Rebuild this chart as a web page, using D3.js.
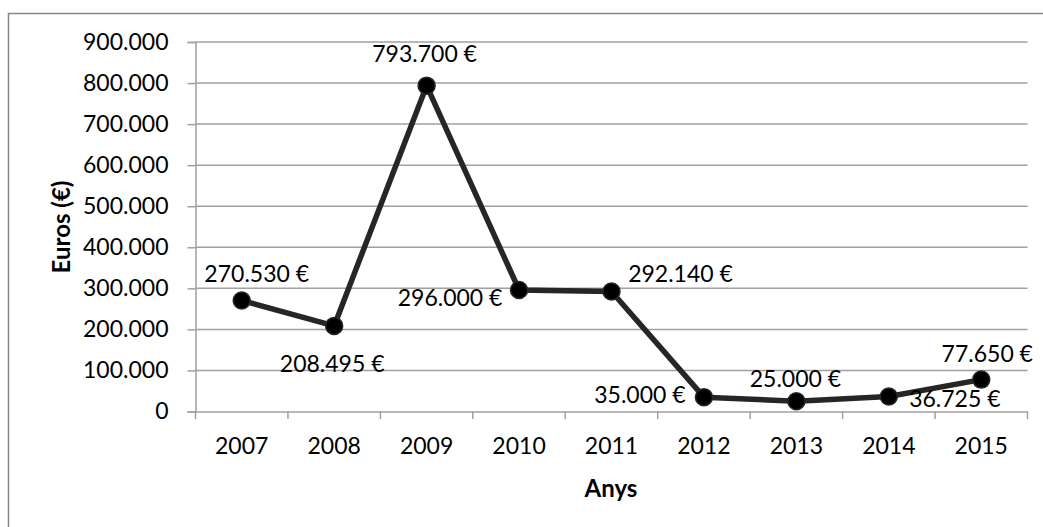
<!DOCTYPE html>
<html><head><meta charset="utf-8">
<script src="https://cdn.jsdelivr.net/npm/d3@7"></script>
<style>
html,body{margin:0;padding:0;background:#fff;}
svg{display:block;font-family:Lato,"Open Sans",sans-serif;}
</style></head>
<body>
<script>
const years = ["2007","2008","2009","2010","2011","2012","2013","2014","2015"];
const values = [270530, 208495, 793700, 296000, 292140, 35000, 25000, 36725, 77650];
const yTicks = [0,100000,200000,300000,400000,500000,600000,700000,800000,900000];
const xTitle = "Anys";
const yTitle = "Euros (€)";
// label placement offsets (layout only)
const labelOffsets = [[15,-27],[-2,37],[-2,-33],[-69,7],[69,-19],[-64,-3],[-1,-23],[66,2],[6,-27]];

const W = 1043, H = 527;
const fs = 23;
const svg = d3.select("body").append("svg").attr("width", W).attr("height", H);

svg.append("rect").attr("x",8.5).attr("y",13.5).attr("width",1040).attr("height",520)
  .attr("fill","#fff").attr("stroke","#868686").attr("stroke-width",1.5);

const x = d3.scaleBand().domain(years).range([195.5, 1027.5]).padding(0);
const y = d3.scaleLinear().domain([0, 900000]).range([411.5, 42]);

const fmt = v => d3.format(",")(v).replace(/,/g, ".");

// gridlines
svg.append("g").selectAll("line").data(yTicks.filter(d => d > 0)).join("line")
  .attr("x1", 195.5).attr("x2", 1027.5)
  .attr("y1", d => y(d)).attr("y2", d => y(d))
  .attr("stroke", "#a0a0a0").attr("stroke-width", 1.5);

// y axis
const yAxis = svg.append("g").attr("transform","translate(195.5,0)")
  .call(d3.axisLeft(y).tickValues(yTicks).tickFormat(fmt).tickSize(8).tickPadding(19));
yAxis.select(".domain").attr("stroke","#a0a0a0").attr("stroke-width",1.5);
yAxis.selectAll(".tick line").attr("stroke","#a0a0a0").attr("stroke-width",1.5);
yAxis.selectAll("text").attr("font-size",fs).attr("font-family","Lato").attr("fill","#000");

// x axis
const xAxis = svg.append("g").attr("transform","translate(0,411.5)")
  .call(d3.axisBottom(x).tickSize(0).tickPadding(26));
xAxis.select(".domain").attr("stroke","#a0a0a0").attr("stroke-width",1.5);
xAxis.selectAll("text").attr("font-size",fs).attr("font-family","Lato").attr("fill","#000");
// boundary ticks
const bounds = years.map(d => x(d)).concat([x.range()[1]]);
svg.append("g").selectAll("line").data(bounds).join("line")
  .attr("x1", d => d).attr("x2", d => d).attr("y1", 411.5).attr("y2", 419)
  .attr("stroke","#a0a0a0").attr("stroke-width",1.5);

const cx = (d,i) => x(years[i]) + x.bandwidth()/2;

// line
const line = d3.line().x((d,i) => cx(d,i)).y(d => y(d));
svg.append("path").datum(values).attr("d", line)
  .attr("fill","none").attr("stroke","#262626").attr("stroke-width",5.5).attr("stroke-linejoin","round");

// markers
svg.append("g").selectAll("circle").data(values).join("circle")
  .attr("cx", (d,i) => cx(d,i)).attr("cy", d => y(d)).attr("r", 8.5)
  .attr("fill","#000").attr("stroke","#262626").attr("stroke-width",1.5);

// data labels
svg.append("g").selectAll("text").data(values).join("text")
  .attr("x", (d,i) => cx(d,i) + labelOffsets[i][0])
  .attr("y", (d,i) => y(d) + labelOffsets[i][1])
  .attr("text-anchor","middle").attr("dominant-baseline","central")
  .attr("font-size", fs).attr("fill","#000")
  .text(d => fmt(d) + " €");

// axis titles
svg.append("text").attr("x", 611).attr("y", 487).attr("text-anchor","middle")
  .attr("dominant-baseline","central").attr("font-size", 24).attr("font-weight","bold").text(xTitle);
svg.append("text").attr("transform","translate(60,227) rotate(-90)").attr("text-anchor","middle")
  .attr("dominant-baseline","central").attr("font-size", 24).attr("font-weight","bold").text(yTitle);
</script>
</body></html>
